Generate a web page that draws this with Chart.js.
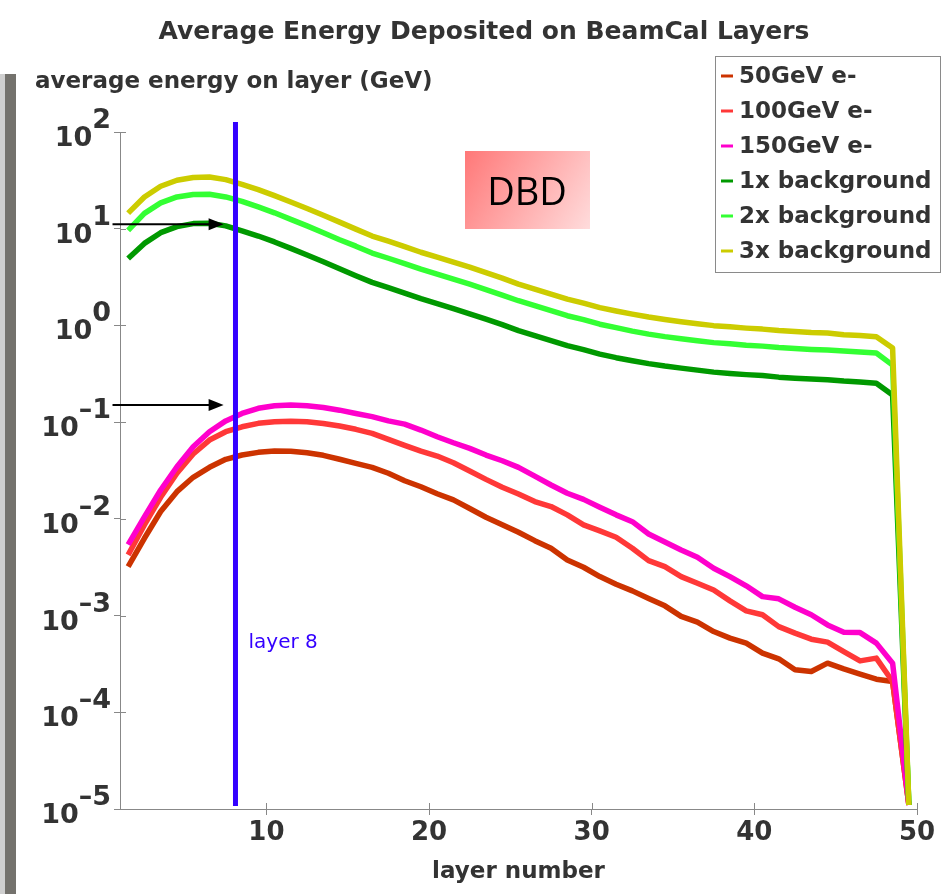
<!DOCTYPE html>
<html>
<head>
<meta charset="utf-8">
<script src="https://cdn.jsdelivr.net/npm/chart.js@4"></script>
<style>
  html, body { margin: 0; padding: 0; background: #fff; }
  #wrap { position: relative; width: 944px; height: 894px; }
  #edge { position: absolute; left: 0; top: 74px; width: 5px; bottom: 0; background: #cfcfcf; }
  #edge2 { position: absolute; left: 5px; top: 74px; width: 11px; bottom: 0; background: #74726d; }
  canvas { position: absolute; left: 0; top: 0; }
</style>
</head>
<body>
<div id="wrap">
  <div id="edge"></div><div id="edge2"></div>
  <canvas id="energyChart" width="944" height="894"></canvas>
</div>
<script>
// layer bin centres
const layers = [1.5, 2.5, 3.5, 4.5, 5.5, 6.5, 7.5, 8.5, 9.5, 10.5,
  11.5, 12.5, 13.5, 14.5, 15.5, 16.5, 17.5, 18.5, 19.5, 20.5,
  21.5, 22.5, 23.5, 24.5, 25.5, 26.5, 27.5, 28.5, 29.5, 30.5,
  31.5, 32.5, 33.5, 34.5, 35.5, 36.5, 37.5, 38.5, 39.5, 40.5,
  41.5, 42.5, 43.5, 44.5, 45.5, 46.5, 47.5, 48.5, 49.5];

// average energy per layer (GeV)
const e50 = [3.2e-3, 6.3e-3, 1.19e-2, 1.91e-2, 2.69e-2, 3.41e-2, 4.13e-2, 4.57e-2, 4.87e-2, 5.02e-2,
  5.0e-2, 4.83e-2, 4.54e-2, 4.13e-2, 3.75e-2, 3.41e-2, 2.96e-2, 2.48e-2, 2.15e-2, 1.82e-2,
  1.57e-2, 1.28e-2, 1.04e-2, 8.7e-3, 7.26e-3, 5.95e-3, 4.97e-3, 3.76e-3, 3.16e-3, 2.53e-3,
  2.11e-3, 1.80e-3, 1.5e-3, 1.26e-3, 9.8e-4, 8.55e-4, 6.84e-4, 5.85e-4, 5.19e-4, 4.09e-4,
  3.57e-4, 2.75e-4, 2.64e-4, 3.22e-4, 2.81e-4, 2.48e-4, 2.20e-4, 2.08e-4, 1.1e-5];
const e100 = [4.24e-3, 8.65e-3, 1.67e-2, 2.96e-2, 4.68e-2, 6.53e-2, 7.96e-2, 8.96e-2, 9.72e-2, 0.101,
  0.102, 0.101, 0.097, 0.0912, 0.0843, 0.0766, 0.0664, 0.0575, 0.0502, 0.0446,
  0.0381, 0.0313, 0.0256, 0.0212, 0.0181, 0.0151, 0.0134, 0.0110, 8.65e-3, 7.5e-3,
  6.45e-3, 4.97e-3, 3.70e-3, 3.21e-3, 2.53e-3, 2.16e-3, 1.84e-3, 1.42e-3, 1.12e-3, 1.02e-3,
  7.69e-4, 6.58e-4, 5.70e-4, 5.31e-4, 4.25e-4, 3.40e-4, 3.63e-4, 2.08e-4, 1.1e-5];
const e150 = [5.4e-3, 1.05e-2, 1.99e-2, 3.46e-2, 5.57e-2, 7.96e-2, 0.103, 0.123, 0.139, 0.148,
  0.150, 0.148, 0.142, 0.133, 0.123, 0.114, 0.103, 0.0955, 0.0828, 0.0706,
  0.0612, 0.0536, 0.0457, 0.0399, 0.0341, 0.0277, 0.0224, 0.0184, 0.0159, 0.0132,
  0.0110, 9.35e-3, 6.98e-3, 5.77e-3, 4.77e-3, 4.01e-3, 3.09e-3, 2.53e-3, 2.03e-3, 1.57e-3,
  1.49e-3, 1.22e-3, 1.02e-3, 8.0e-4, 6.73e-4, 6.67e-4, 5.19e-4, 3.22e-4, 1.1e-5];
const bg1 = [4.92, 7.05, 9.1, 10.5, 11.3, 11.4, 10.7, 9.5, 8.4, 7.3,
  6.26, 5.35, 4.56, 3.86, 3.27, 2.79, 2.46, 2.16, 1.89, 1.68,
  1.49, 1.32, 1.16, 1.02, 0.883, 0.785, 0.697, 0.618, 0.562, 0.505,
  0.464, 0.432, 0.403, 0.380, 0.362, 0.345, 0.329, 0.319, 0.310, 0.303,
  0.292, 0.285, 0.279, 0.275, 0.266, 0.260, 0.253, 0.191, 1.1e-5];
const bg2 = [9.6, 14.4, 18.5, 21.3, 22.6, 22.7, 21.3, 19.2, 16.8, 14.6,
  12.5, 10.7, 9.1, 7.7, 6.6, 5.6, 4.95, 4.35, 3.82, 3.39,
  3.01, 2.67, 2.35, 2.06, 1.80, 1.60, 1.42, 1.26, 1.15, 1.03,
  0.948, 0.873, 0.813, 0.766, 0.730, 0.696, 0.664, 0.648, 0.625, 0.611,
  0.590, 0.576, 0.565, 0.556, 0.543, 0.530, 0.518, 0.389, 1.1e-5];
const bg3 = [14.5, 21.3, 27.5, 31.7, 33.8, 34.3, 32.2, 28.8, 25.4, 22.0,
  18.9, 16.2, 13.8, 11.7, 9.9, 8.4, 7.43, 6.52, 5.71, 5.08,
  4.51, 4.00, 3.51, 3.08, 2.67, 2.37, 2.11, 1.87, 1.70, 1.53,
  1.41, 1.31, 1.22, 1.15, 1.09, 1.04, 0.995, 0.968, 0.938, 0.916,
  0.884, 0.863, 0.843, 0.833, 0.803, 0.785, 0.763, 0.583, 1.1e-5];

const seriesLabels = ['50GeV e-', '100GeV e-', '150GeV e-', '1x background', '2x background', '3x background'];
const seriesColors = ['#cc3300', '#ff3838', '#ff00cc', '#009900', '#33ff33', '#cccc00'];
const seriesValues = [e50, e100, e150, bg1, bg2, bg3];

const xTicks = [10, 20, 30, 40, 50];
const yExponents = [-5, -4, -3, -2, -1, 0, 1, 2];

// annotations
const markLayer = 8.1;
const markLabel = 'layer 8';
const arrowLevels = [11.1, 0.150];
const arrowFrom = 0.54, arrowTo = 7.37;

const FONT = "'DejaVu Sans', sans-serif";
const TEXT = '#333333';

const decor = {
    id: 'decor',
    afterDatasetsDraw(chart) {
        const ctx = chart.ctx;
        const xs = chart.scales.x, ys = chart.scales.y;
        ctx.save();

        // inner half of tick marks
        ctx.strokeStyle = '#888';
        ctx.lineWidth = 1;
        ctx.beginPath();
        yExponents.forEach(e => {
            const py = Math.round(ys.getPixelForValue(Math.pow(10, e))) + 0.5;
            ctx.moveTo(xs.left, py); ctx.lineTo(xs.left + 6, py);
        });
        xTicks.forEach(v => {
            const px = Math.round(xs.getPixelForValue(v)) + 0.5;
            ctx.moveTo(px, ys.bottom); ctx.lineTo(px, ys.bottom - 6);
        });
        ctx.stroke();

        // layer 8 marker
        const bx = xs.getPixelForValue(markLayer);
        ctx.strokeStyle = '#3300ff';
        ctx.lineWidth = 5;
        ctx.beginPath();
        ctx.moveTo(bx, 122);
        ctx.lineTo(bx, 806);
        ctx.stroke();
        ctx.fillStyle = '#3300ff';
        ctx.font = '20px ' + FONT;
        ctx.textAlign = 'left';
        ctx.textBaseline = 'alphabetic';
        ctx.fillText(markLabel, bx + 13, 648);

        // arrows
        ctx.strokeStyle = '#000';
        ctx.fillStyle = '#000';
        ctx.lineWidth = 2;
        arrowLevels.forEach(v => {
            const py = ys.getPixelForValue(v);
            const x0 = xs.getPixelForValue(arrowFrom), x1 = xs.getPixelForValue(arrowTo);
            ctx.beginPath();
            ctx.moveTo(x0, py); ctx.lineTo(x1 - 12, py);
            ctx.stroke();
            ctx.beginPath();
            ctx.moveTo(x1, py); ctx.lineTo(x1 - 15, py - 6); ctx.lineTo(x1 - 15, py + 6);
            ctx.closePath();
            ctx.fill();
        });
        ctx.restore();
    },
    afterDraw(chart) {
        const ctx = chart.ctx;
        const xs = chart.scales.x, ys = chart.scales.y;
        ctx.save();
        ctx.fillStyle = TEXT;
        ctx.textBaseline = 'alphabetic';

        // title
        ctx.font = 'bold 25px ' + FONT;
        ctx.textAlign = 'center';
        ctx.fillText('Average Energy Deposited on BeamCal Layers', 484, 39);

        // y axis title (horizontal, above axis)
        ctx.font = 'bold 23px ' + FONT;
        ctx.textAlign = 'left';
        ctx.fillText('average energy on layer (GeV)', 35, 88);

        // x axis title
        ctx.textAlign = 'center';
        ctx.fillText('layer number', (xs.left + xs.right) / 2, 878);

        // y tick labels 10^n
        ctx.font = 'bold 27px ' + FONT;
        ctx.textAlign = 'right';
        yExponents.forEach(e => {
            const py = ys.getPixelForValue(Math.pow(10, e));
            const exp = e < 0 ? '\u2013' + (-e) : String(e);
            ctx.fillText(exp, 111, py - 4);
            const w = ctx.measureText(exp).width;
            ctx.fillText('10', 111 - w, py + 14);
        });

        // DBD box
        const g = ctx.createLinearGradient(465, 151, 590, 229);
        g.addColorStop(0, '#ff7878');
        g.addColorStop(1, '#ffdcdc');
        ctx.fillStyle = g;
        ctx.fillRect(465, 151, 125, 78);
        ctx.fillStyle = '#000';
        ctx.font = "38px 'Open Sans', sans-serif";
        ctx.textAlign = 'center';
        ctx.fillText('DBD', 527, 205);

        // legend
        ctx.fillStyle = '#fff';
        ctx.fillRect(716, 57, 225, 216);
        ctx.strokeStyle = '#8a8a8a';
        ctx.lineWidth = 1;
        ctx.strokeRect(715.5, 56.5, 225, 216);
        ctx.font = 'bold 23px ' + FONT;
        ctx.textAlign = 'left';
        ctx.textBaseline = 'middle';
        chart.data.datasets.forEach((ds, i) => {
            const cy = 76 + i * 35;
            ctx.strokeStyle = ds.borderColor;
            ctx.lineWidth = 3;
            ctx.beginPath();
            ctx.moveTo(721, cy); ctx.lineTo(733, cy);
            ctx.stroke();
            ctx.fillStyle = TEXT;
            ctx.fillText(ds.label, 739, cy + 1);
        });
        ctx.restore();
    }
};

const datasets = seriesLabels.map((label, i) => ({
    label: label,
    data: layers.map((l, j) => ({ x: l, y: seriesValues[i][j] })),
    borderColor: seriesColors[i],
    backgroundColor: seriesColors[i],
    borderWidth: 5.5,
    pointRadius: 0,
    borderJoinStyle: 'round',
    tension: 0,
    fill: false,
    order: seriesLabels.length - 1 - i,
}));

new Chart(document.getElementById('energyChart').getContext('2d'), {
    type: 'line',
    data: { datasets: datasets },
    options: {
        responsive: false,
        animation: false,
        devicePixelRatio: 1,
        layout: { padding: { top: 132, right: 27, left: 0, bottom: 0 } },
        plugins: {
            legend: { display: false },
            title: { display: false },
            tooltip: { enabled: false }
        },
        scales: {
            x: {
                type: 'linear',
                min: 1,
                max: 50,
                afterFit: s => { s.height = 85; },
                afterBuildTicks: s => { s.ticks = xTicks.map(v => ({ value: v })); },
                border: { display: true, color: '#888', width: 1 },
                grid: { drawOnChartArea: false, drawTicks: true, tickLength: 6, color: '#888' },
                ticks: {
                    color: TEXT,
                    padding: 3,
                    maxRotation: 0,
                    font: { family: FONT, size: 26, weight: 'bold' }
                }
            },
            y: {
                type: 'logarithmic',
                min: 1e-5,
                max: 100,
                afterFit: s => { s.width = 120; },
                afterBuildTicks: s => { s.ticks = yExponents.map(e => ({ value: Math.pow(10, e) })); },
                border: { display: true, color: '#888', width: 1 },
                grid: { drawOnChartArea: false, drawTicks: true, tickLength: 6, color: '#888' },
                ticks: { display: false }
            }
        }
    },
    plugins: [decor]
});
</script>
</body>
</html>
